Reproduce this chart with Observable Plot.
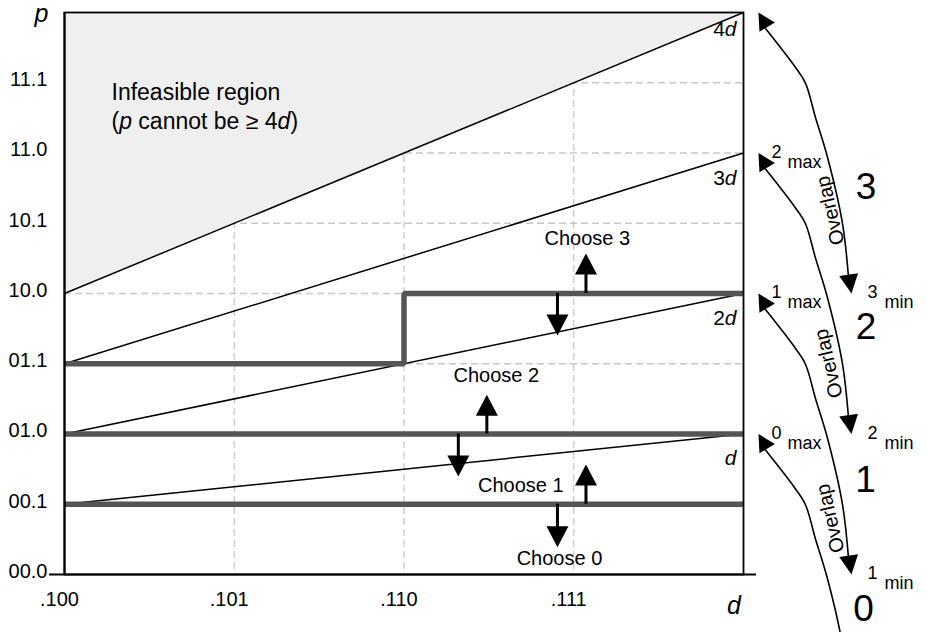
<!DOCTYPE html>
<html>
<head>
<meta charset="utf-8">
<script src="https://cdn.jsdelivr.net/npm/d3@7"></script>
<script src="https://cdn.jsdelivr.net/npm/@observablehq/plot@0.6"></script>
<style>
  html, body { margin: 0; padding: 0; background: #fff; overflow: hidden; }
  #chart svg { overflow: hidden; }
</style>
</head>
<body>
<div id="chart"></div>
<script>
// ---------- data ----------
const xTicks = [0.5, 0.625, 0.75, 0.875];
const xTickLabels = [".100", ".101", ".110", ".111"];
const yTicks = [0, 0.5, 1, 1.5, 2, 2.5, 3, 3.5];
const yTickLabels = ["00.0", "00.1", "01.0", "01.1", "10.0", "10.1", "11.0", "11.1"];

// p = k·d lines (endpoints)
const multipleLines = [
  {k: 1, d0: 0.5, p0: 0.5, d1: 1, p1: 1},
  {k: 2, d0: 0.5, p0: 1.0, d1: 1, p1: 2},
  {k: 3, d0: 0.5, p0: 1.5, d1: 1, p1: 3},
  {k: 4, d0: 0.5, p0: 2.0, d1: 1, p1: 4}
];
const lineLabels = [
  {text: "4*d*", p: 3.836},
  {text: "3*d*", p: 2.769},
  {text: "2*d*", p: 1.779},
  {text: "*d*",  p: 0.779}
];

// infeasible region (p >= 4d)
const infeasible = [
  {d: 0.5, pLow: 2, pHigh: 4},
  {d: 1.0, pLow: 4, pHigh: 4}
];

// selection boundaries (thick grey)
const boundaries = [
  {id: "b01", d: 0.5, p: 0.5}, {id: "b01", d: 1, p: 0.5},
  {id: "b12", d: 0.5, p: 1.0}, {id: "b12", d: 1, p: 1.0},
  {id: "b23", d: 0.5, p: 1.5}, {id: "b23", d: 0.75, p: 1.5},
  {id: "b23", d: 0.75, p: 2.0}, {id: "b23", d: 1, p: 2.0}
];

// "Choose" arrows: from boundary p to arrow tip p
const chooseArrows = [
  {d: 0.884, from: 2.0, to: 2.285},
  {d: 0.863, from: 2.0, to: 1.701},
  {d: 0.811, from: 1.0, to: 1.280},
  {d: 0.790, from: 1.0, to: 0.698},
  {d: 0.884, from: 0.5, to: 0.783},
  {d: 0.863, from: 0.5, to: 0.194}
];
const chooseLabels = [
  {text: "Choose 3", d: 0.885, p: 2.391},
  {text: "Choose 2", d: 0.818, p: 1.416},
  {text: "Choose 1", d: 0.836, p: 0.633},
  {text: "Choose 0", d: 0.8645, p: 0.114}
];

const infeasibleText = [
  {text: "Infeasible region", d: 0.5346, p: 3.374},
  {text: "(*p* cannot be \u2265 4*d*)", d: 0.5346, p: 3.174}
];

// right-hand annotation: digit ranges (max, min) at d = 1
const digitRanges = [
  {digit: 3, max: 4, min: 2},
  {digit: 2, max: 3, min: 1},
  {digit: 1, max: 2, min: 0},
  {digit: 0, max: 1, min: -1}
];
// shape of each bracket arrow: d positions and drop below its max
const bracketD    = [1.0162, 1.0383, 1.0457, 1.0530, 1.0619, 1.0729, 1.0774];
const bracketDrop = [0.114, 0.391, 0.505, 0.747, 1.032, 1.502, 1.893];
const bracketStartD = 1.011;
const bracketEndD = 1.0795;

const maxLabels = [{digit: "2", p: 3}, {digit: "1", p: 2}, {digit: "0", p: 1}];
const minLabels = [{digit: "3", p: 2}, {digit: "2", p: 1}, {digit: "1", p: 0}];
const bigDigits = [
  {text: "3", d: 1.0902, p: 2.758},
  {text: "2", d: 1.0902, p: 1.762},
  {text: "1", d: 1.0898, p: 0.669},
  {text: "0", d: 1.0884, p: -0.246}
];
const overlapLabels = [
  {d: 1.0640, p: 2.591},
  {d: 1.0626, p: 1.502},
  {d: 1.0640, p: 0.399}
];

// ---------- helpers ----------
function makeHead(angle, len, width) {
  const a = angle * Math.PI / 180;
  const ux = Math.sin(a), uy = -Math.cos(a);
  const px = -uy, py = ux;
  return {
    draw(ctx) {
      const bx = -ux * len, by = -uy * len;
      ctx.moveTo(0, 0);
      ctx.lineTo(bx + px * width / 2, by + py * width / 2);
      ctx.lineTo(bx - px * width / 2, by - py * width / 2);
      ctx.closePath();
    }
  };
}
const headUp = makeHead(0, 21, 22);
const headDown = makeHead(180, 21, 22);
const headStart = makeHead(-31, 17, 18);
const headEnd = makeHead(171.5, 19, 19);

const bracketPoints = digitRanges.flatMap(r =>
  bracketD.map((d, i) => ({digit: r.digit, d, p: r.max - bracketDrop[i]}))
);

const FONT = "Liberation Sans, Arial, Helvetica, sans-serif";

const plot = Plot.plot({
  width: 927,
  height: 632,
  marginLeft: 64,
  marginRight: 184,
  marginTop: 12,
  marginBottom: 58,
  x: {domain: [0.5, 1], axis: null},
  y: {domain: [0, 4], axis: null},
  style: {fontFamily: FONT, fontSize: "20px", background: "white", color: "black"},
  marks: [
    // grid
    Plot.ruleX(xTicks.slice(1), {stroke: "#c8c8c8", strokeWidth: 1.3, strokeDasharray: "7,4"}),
    Plot.ruleY(yTicks.slice(1), {stroke: "#c8c8c8", strokeWidth: 1.3, strokeDasharray: "7,4"}),
    // infeasible region
    Plot.areaY(infeasible, {x: "d", y1: "pLow", y2: "pHigh", fill: "#efefef"}),
    // p = k d lines
    Plot.link(multipleLines, {x1: "d0", y1: "p0", x2: "d1", y2: "p1", stroke: "black", strokeWidth: 1.5}),
    // thick boundaries
    Plot.line(boundaries, {x: "d", y: "p", z: "id", stroke: "#555", strokeWidth: 5.5, strokeLinejoin: "miter", strokeLinecap: "butt"}),
    // choose arrows
    Plot.ruleX(chooseArrows, {x: "d", y1: "from", y2: a => a.to + (a.to > a.from ? -0.1 : 0.1), stroke: "black", strokeWidth: 3}),
    Plot.dot(chooseArrows.filter(a => a.to > a.from), {x: "d", y: "to", symbol: headUp, r: 5, fill: "black", stroke: "none"}),
    Plot.dot(chooseArrows.filter(a => a.to < a.from), {x: "d", y: "to", symbol: headDown, r: 5, fill: "black", stroke: "none"}),
    // frame & axes lines
    Plot.frame({stroke: "black", strokeWidth: 1.8}),
    Plot.ruleX([0.5], {stroke: "black", strokeWidth: 2}),
    Plot.ruleY([0], {x1: () => 0.489, x2: () => 1.0096, stroke: "black", strokeWidth: 2}),
    // tick labels
    Plot.text(xTicks, {x: d => d, y: () => 0, text: (d, i) => xTickLabels[i], lineAnchor: "top", dy: 17, dx: -5, textAnchor: "middle", fontSize: 20}),
    Plot.text(yTicks, {x: () => 0.5, y: d => d, text: (d, i) => yTickLabels[i], textAnchor: "end", lineAnchor: "middle", dx: -17, dy: -3, fontSize: 20}),
    // axis labels
    Plot.text(["*p*"], {x: () => 0.4831, y: () => 3.93, text: d => d, textAnchor: "middle", lineAnchor: "bottom", fontSize: 25}),
    Plot.text(["*d*"], {x: () => 0.9930, y: () => -0.278, text: d => d, textAnchor: "middle", lineAnchor: "bottom", fontSize: 25}),
    // line labels
    Plot.text(lineLabels, {x: () => 1, y: "p", text: "text", textAnchor: "end", lineAnchor: "bottom", dx: -7, fontSize: 21}),
    // infeasible text
    Plot.text(infeasibleText, {x: "d", y: "p", text: "text", textAnchor: "start", lineAnchor: "bottom", fontSize: 23}),
    // choose labels
    Plot.text(chooseLabels, {x: "d", y: "p", text: "text", textAnchor: "middle", lineAnchor: "middle", fontSize: 20}),
    // right annotation: bracket arrows
    Plot.line(bracketPoints, {x: "d", y: "p", z: "digit", curve: "catmull-rom", stroke: "black", strokeWidth: 1.6}),
    Plot.dot(digitRanges, {x: () => bracketStartD, y: "max", symbol: headStart, r: 5, fill: "black", stroke: "none"}),
    Plot.dot(digitRanges, {x: () => bracketEndD, y: "min", symbol: headEnd, r: 5, fill: "black", stroke: "none"}),
    Plot.text(maxLabels, {x: () => 1.0206, y: "p", text: "digit", textAnchor: "start", lineAnchor: "bottom", dy: 4.5, fontSize: 18}),
    Plot.text(maxLabels, {x: () => 1.0324, y: "p", text: () => "max", textAnchor: "start", lineAnchor: "bottom", dy: 14.5, fontSize: 18}),
    Plot.text(minLabels, {x: () => 1.0913, y: "p", text: "digit", textAnchor: "start", lineAnchor: "bottom", dy: 4.5, fontSize: 18}),
    Plot.text(minLabels, {x: () => 1.1038, y: "p", text: () => "min", textAnchor: "start", lineAnchor: "bottom", dy: 14.5, fontSize: 18}),
    Plot.text(bigDigits, {x: "d", y: "p", text: "text", textAnchor: "middle", lineAnchor: "middle", fontSize: 37}),
    Plot.text(overlapLabels, {x: "d", y: "p", text: () => "Overlap", textAnchor: "middle", lineAnchor: "middle", rotate: -103, fontSize: 20})
  ]
});

function italicize(root) {
  const walker = document.createTreeWalker(root, NodeFilter.SHOW_TEXT);
  const nodes = [];
  while (walker.nextNode()) {
    if (walker.currentNode.nodeValue.includes("*")) nodes.push(walker.currentNode);
  }
  for (const node of nodes) {
    const parts = node.nodeValue.split("*");
    const frag = document.createDocumentFragment();
    parts.forEach((part, i) => {
      if (!part) return;
      if (i % 2) {
        const t = document.createElementNS("http://www.w3.org/2000/svg", "tspan");
        t.setAttribute("font-style", "italic");
        t.textContent = part;
        frag.appendChild(t);
      } else {
        frag.appendChild(document.createTextNode(part));
      }
    });
    node.parentNode.replaceChild(frag, node);
  }
}
italicize(plot);
document.getElementById("chart").appendChild(plot);
</script>
</body>
</html>
